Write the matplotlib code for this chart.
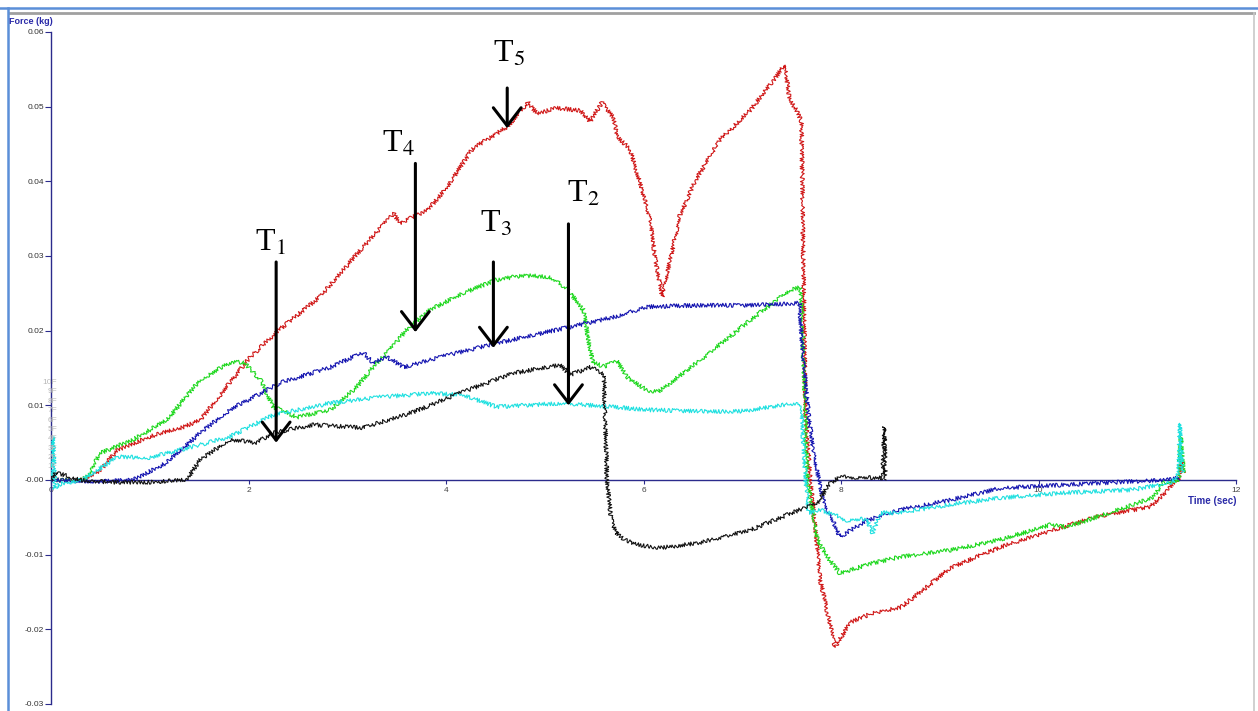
import numpy as np
import matplotlib
matplotlib.use("Agg")
import matplotlib.pyplot as plt
from matplotlib.lines import Line2D

# Время (с) и сила (кг) для каждой кривой
red_t = [0, 0.3, 0.5, 0.67, 1.0, 1.34, 1.51, 1.81, 2.0, 2.29, 2.72, 3.16, 3.47, 3.53, 3.81, 4.0,
         4.27, 4.62, 4.83, 4.92, 5.12, 5.36, 5.46, 5.58, 5.69, 5.74, 5.86, 5.96, 6.07, 6.12, 6.19,
         6.27, 6.37, 6.52, 6.77, 7.08, 7.28, 7.43, 7.48, 7.55, 7.6, 7.64, 7.69, 7.79, 7.94, 8.09,
         8.32, 8.6, 8.9, 9.1, 9.61, 10.12, 10.62, 11.13, 11.3, 11.36, 11.42, 11.45, 11.47]
red_v = [0, 0.0000, 0.0013, 0.0040, 0.0058, 0.0071, 0.0080, 0.0130, 0.0162, 0.0199, 0.0245, 0.0312,
         0.0357, 0.0344, 0.0361, 0.0390, 0.0444, 0.0473, 0.0506, 0.0491, 0.0498, 0.0495, 0.0480,
         0.0506, 0.0486, 0.0459, 0.0444, 0.0400, 0.0348, 0.0295, 0.0245, 0.0295, 0.0355, 0.0400,
         0.0455, 0.0495, 0.0529, 0.0556, 0.0509, 0.0495, 0.0480, 0.0090, 0.0000, -0.0134, -0.0224,
         -0.0191, -0.0178, -0.0171, -0.0140, -0.0118, -0.0090, -0.0068, -0.0048, -0.0036, -0.0015,
         -0.0004, 0.0000, 0.0027, 0.0010]

green_t = [0, 0.3, 0.36, 0.5, 0.83, 1.17, 1.51, 1.81, 1.95, 2.12, 2.25, 2.49, 2.83, 3.1, 3.26, 3.43,
           3.6, 3.84, 4.17, 4.51, 4.78, 5.05, 5.22, 5.39, 5.46, 5.49, 5.6, 5.73, 5.83, 6.04, 6.15,
           6.57, 7.08, 7.48, 7.58, 7.6, 7.66, 7.76, 7.86, 7.99, 8.3, 8.6, 9.1, 9.61, 10.12, 10.29,
           10.96, 11.16, 11.26, 11.42, 11.44, 11.47]
green_v = [0, 0.0000, 0.0004, 0.0036, 0.0054, 0.0080, 0.0134, 0.0157, 0.0158, 0.0134, 0.0098, 0.0084,
           0.0094, 0.0125, 0.0151, 0.0174, 0.0201, 0.0228, 0.0250, 0.0268, 0.0274, 0.0272, 0.0257,
           0.0228, 0.0174, 0.0157, 0.0152, 0.0160, 0.0138, 0.0120, 0.0118, 0.0160, 0.0214, 0.0254,
           0.0258, 0.0240, 0.0000, -0.0080, -0.0103, -0.0125, -0.0112, -0.0103, -0.0094, -0.0080,
           -0.0060, -0.0063, -0.0033, -0.0023, -0.0004, 0.0000, 0.0060, 0.0010]

blue_t = [0, 0.5, 0.83, 1.17, 1.51, 1.81, 2.32, 2.83, 3.16, 3.26, 3.4, 3.57, 4.01, 4.51, 5.19, 5.69,
          6.04, 6.57, 7.08, 7.58, 7.6, 7.67, 7.72, 7.82, 7.99, 8.26, 8.6, 9.1, 9.61, 10.62, 11.3, 11.42]
blue_v = [0, -0.0002, 0.0000, 0.0023, 0.0063, 0.0094, 0.0130, 0.0151, 0.0171, 0.0157, 0.0165, 0.0151,
          0.0167, 0.0183, 0.0203, 0.0218, 0.0232, 0.0234, 0.0234, 0.0237, 0.0190, 0.0090, 0.0036,
          -0.0027, -0.0076, -0.0054, -0.0040, -0.0027, -0.0011, -0.0004, 0.0000, 0.0003]

cyan_t = [0, 0.02, 0.04, 0.06, 0.1, 0.32, 0.67, 1.0, 1.51, 1.81, 2.25, 2.83, 3.33, 3.84, 4.17, 4.51,
          5.19, 6.04, 6.57, 6.98, 7.55, 7.6, 7.64, 7.67, 7.8, 8.06, 8.26, 8.32, 8.4, 8.6, 9.1, 9.61,
          10.29, 10.96, 11.36, 11.42, 11.43, 11.46]
cyan_v = [0, 0.0058, -0.0012, -0.0008, -0.0005, 0.0000, 0.0031, 0.0030, 0.0047, 0.0058, 0.0087, 0.0103,
          0.0111, 0.0116, 0.0114, 0.0098, 0.0103, 0.0094, 0.0092, 0.0092, 0.0103, 0.0095, 0.0000,
          -0.0044, -0.0040, -0.0054, -0.0052, -0.0071, -0.0044, -0.0044, -0.0033, -0.0024, -0.0017,
          -0.0013, -0.0003, 0.0010, 0.0076, 0.0010]

black_t = [0, 0.05, 0.3, 0.6, 1.0, 1.37, 1.51, 1.81, 2.08, 2.25, 2.66, 3.16, 3.67, 4.17, 4.68, 5.15,
           5.26, 5.46, 5.56, 5.6, 5.63, 5.67, 5.72, 5.8, 5.96, 6.17, 6.57, 7.08, 7.58, 7.76, 7.89,
           7.99, 8.32, 8.42, 8.44, 8.45]
black_v = [0, 0.0010, 0.0000, -0.0003, -0.0003, 0.0000, 0.0027, 0.0054, 0.0050, 0.0063, 0.0074, 0.0070,
           0.0091, 0.0118, 0.0143, 0.0154, 0.0141, 0.0151, 0.0145, 0.0140, 0.0000, -0.0050, -0.0070,
           -0.0080, -0.0087, -0.0091, -0.0084, -0.0067, -0.0040, -0.0031, -0.0004, 0.0004, 0.0003,
           0.0003, 0.0071, 0.0000]

# Подписи осей
x_ticks = [0, 2, 4, 6, 8, 10, 12]
x_tick_labels = ["0", "2", "4", "6", "8", "10", "12"]
y_ticks = [-0.03, -0.02, -0.01, 0.0, 0.01, 0.02, 0.03, 0.04, 0.05, 0.06]
y_tick_labels = ["-0.03", "-0.02", "-0.01", "-0.00", "0.01", "0.02", "0.03", "0.04", "0.05", "0.06"]
side_labels = ["1F", "2F", "3F", "4F", "5F", "6F", "7F", "8F", "9F", "10F"]

# Стрелки T1..T5: подпись, (x, y) текста, x стрелки, верх, острие
marks = [
    ("T$_1$", 2.066, 0.0307, 2.28, 0.0292, 0.0050),
    ("T$_4$", 3.35, 0.0439, 3.69, 0.0424, 0.0198),
    ("T$_3$", 4.34, 0.0333, 4.48, 0.0292, 0.0177),
    ("T$_2$", 5.23, 0.0372, 5.24, 0.0343, 0.0100),
    ("T$_5$", 4.476, 0.0560, 4.62, 0.0525, 0.0471),
]

navy = "#2b2b8c"
plt.rcParams["mathtext.fontset"] = "stix"

fig = plt.figure(figsize=(12.58, 7.11), dpi=100)
ax = fig.add_axes([51 / 1258, 7 / 711, 1185 / 1258, 672 / 711])

# Кривые (шум сигнала передан эффектом sketch)
series = [
    (red_t, red_v, "#d01818"),
    (green_t, green_v, "#1fd81f"),
    (blue_t, blue_v, "#1414b0"),
    (cyan_t, cyan_v, "#1fe0e0"),
    (black_t, black_v, "#111111"),
]
for t, v, c in series:
    line, = ax.plot(t, v, color=c, lw=0.8, zorder=3)
    line.set_sketch_params(2.0, 1.5, 2)

ax.set_xlim(0, 12)
ax.set_ylim(-0.03, 0.06)
for s in ["top", "right"]:
    ax.spines[s].set_visible(False)
ax.spines["bottom"].set_position(("data", 0))
ax.spines["bottom"].set_color(navy)
ax.spines["left"].set_color(navy)
ax.spines["bottom"].set_linewidth(1)
ax.spines["left"].set_linewidth(1)

ax.set_xticks(x_ticks)
ax.set_xticklabels(x_tick_labels)
ax.set_yticks(y_ticks)
ax.set_yticklabels(y_tick_labels)
ax.tick_params(axis="x", direction="out", length=3, width=0.8, color=navy,
               labelsize=6, labelcolor="#444444", pad=2)
ax.tick_params(axis="y", direction="out", length=4, width=0.8, color=navy,
               labelsize=6, labelcolor="#333333", pad=1)
for lab in ax.get_xticklabels() + ax.get_yticklabels():
    lab.set_family("Liberation Sans")

# Стрелки и подписи T
for label, xt, yt, xa, ytop, ytip in marks:
    ax.annotate("", xy=(xa, ytip), xytext=(xa, ytop),
                arrowprops=dict(arrowstyle="->,head_length=0.65,head_width=0.5", lw=2.2,
                                color="black", shrinkA=0, shrinkB=0, mutation_scale=20),
                zorder=5)
    ax.text(xt, yt, label, fontsize=23, family="Liberation Serif",
            ha="left", va="baseline", zorder=5)

# Подписи осей
fig.text(9 / 1258, 1 - 21 / 711, "Force (kg)", ha="left", va="center", fontsize=6.5,
         fontweight="bold", color="#2a2aa8", family="Liberation Sans")
fig.text(1236 / 1258, 1 - 501 / 711, "Time (sec)", ha="right", va="center", fontsize=7,
         fontweight="bold", color="#2a2aa8", family="Liberation Sans")

# Бледные метки у оси
for i, s in enumerate(side_labels):
    fig.text(57 / 1258, 1 - (467 - i * 9.4) / 711, s, ha="right", va="center",
             fontsize=6, color="#b8b8b8", family="Liberation Sans")

# Рамка окна
fig.add_artist(Line2D([0, 1], [1 - 8 / 711] * 2, color="#5b8fd8", lw=1.8))
fig.add_artist(Line2D([9 / 1258, 1254 / 1258], [1 - 13.3 / 711] * 2, color="#a0a0a0", lw=2))
fig.add_artist(Line2D([8.2 / 1258] * 2, [0, 1 - 8 / 711], color="#5b8fd8", lw=1.8))
fig.add_artist(Line2D([1254 / 1258] * 2, [0, 1 - 13 / 711], color="#c8c8c8", lw=1.2))

fig.savefig("out.png", dpi=100)
